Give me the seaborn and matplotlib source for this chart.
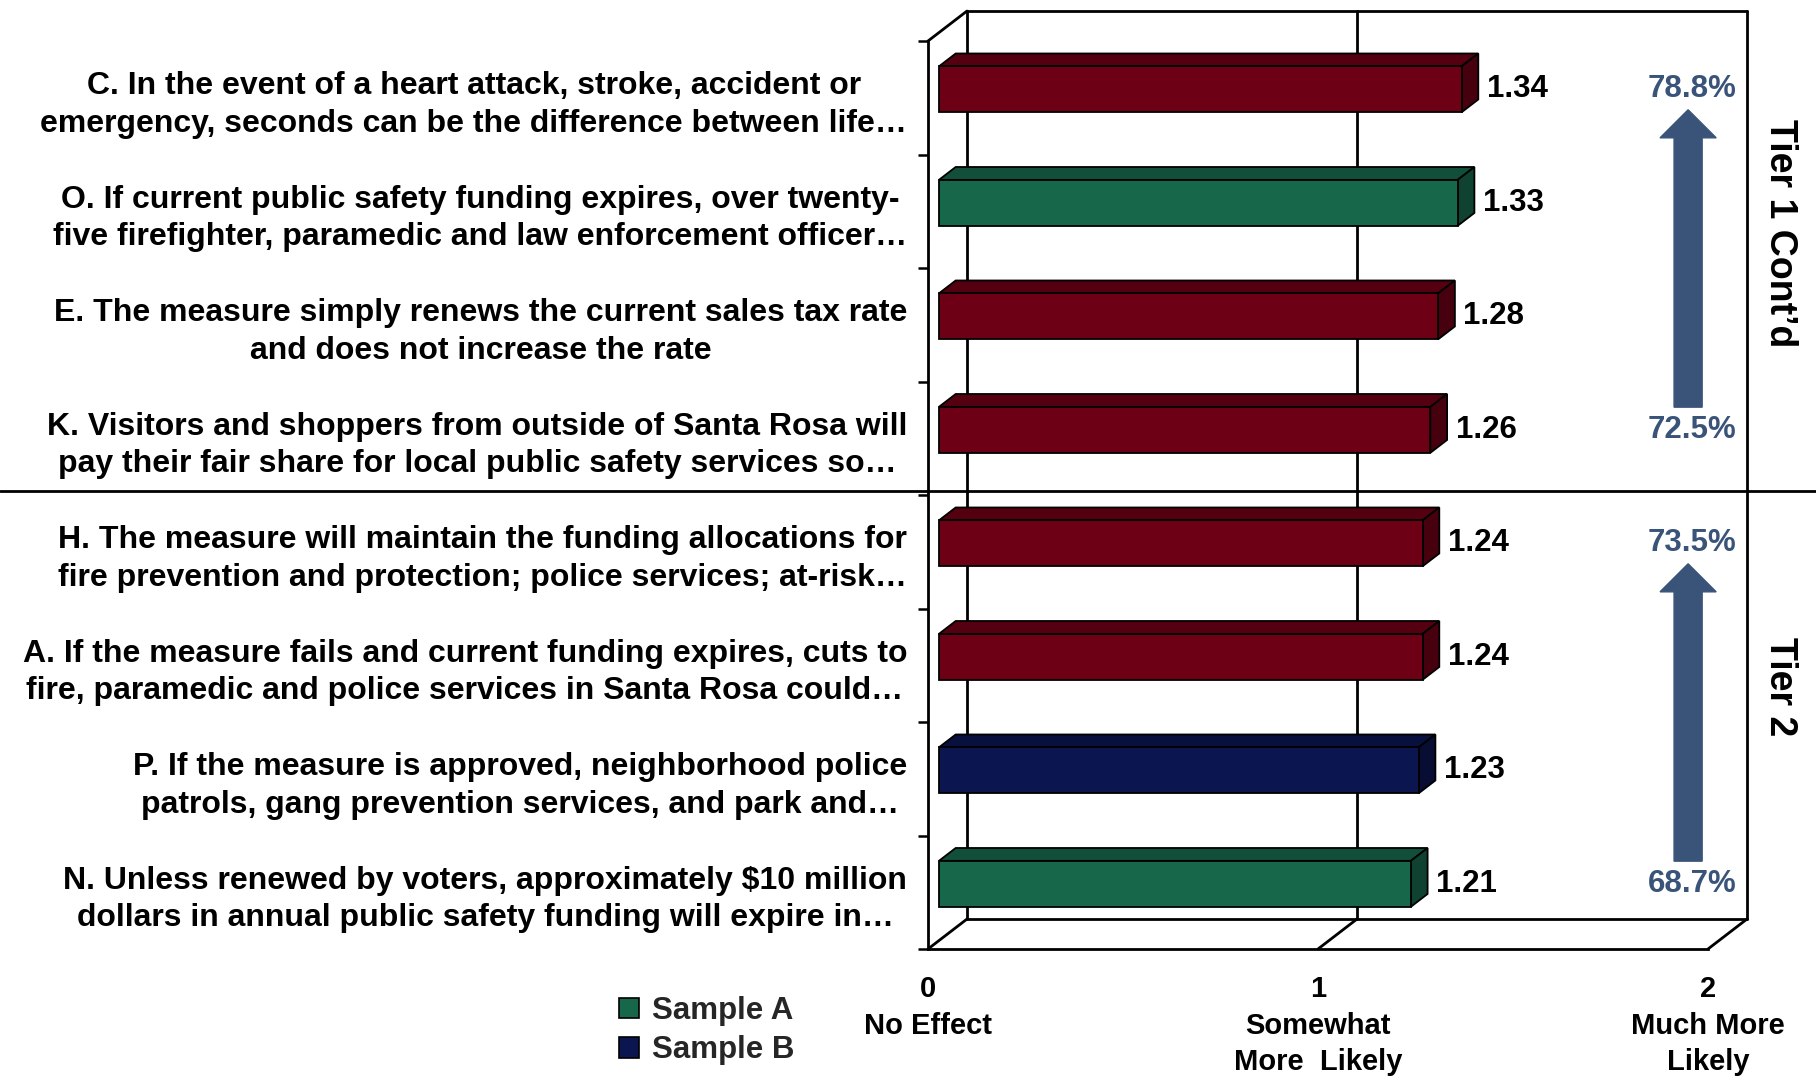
import numpy as np
import pandas as pd
import matplotlib
matplotlib.use("Agg")
import matplotlib.pyplot as plt
import seaborn as sns
from matplotlib.patches import Polygon, Patch, FancyArrow
from matplotlib.lines import Line2D
from matplotlib.colors import to_rgb

# ---------------- data ----------------
labels = [
    "C. In the event of a heart attack, stroke, accident or\nemergency, seconds can be the difference between life…",
    "O. If current public safety funding expires, over twenty-\nfive firefighter, paramedic and law enforcement officer…",
    "E. The measure simply renews the current sales tax rate\nand does not increase the rate",
    "K. Visitors and shoppers from outside of Santa Rosa will\npay their fair share for local public safety services so…",
    "H. The measure will maintain the funding allocations for\nfire prevention and protection; police services; at-risk…",
    "A. If the measure fails and current funding expires, cuts to\nfire, paramedic and police services in Santa Rosa could…",
    "P. If the measure is approved, neighborhood police\npatrols, gang prevention services, and park and…",
    "N. Unless renewed by voters, approximately $10 million\ndollars in annual public safety funding will expire in…",
]
values = [1.34, 1.33, 1.28, 1.26, 1.24, 1.24, 1.23, 1.21]
samples = ["Both", "Sample A", "Both", "Both", "Both", "Both", "Sample B", "Sample A"]

tier_names = ["Tier 1 Cont\u2019d", "Tier 2"]
tier_top_pct = ["78.8%", "73.5%"]
tier_bottom_pct = ["72.5%", "68.7%"]
tier_rows = [(0, 3), (4, 7)]

xtick_vals = [0, 1, 2]
xtick_labels = ["0\nNo Effect", "1\nSomewhat\nMore  Likely", "2\nMuch More\nLikely"]
legend_labels = ["Sample A", "Sample B"]

palette = {"Both": "#6E0016", "Sample A": "#17674B", "Sample B": "#0B1550"}
pct_color = "#3A5479"

# ---------------- style ----------------
sns.set_theme(style="white")
plt.rcParams["font.family"] = ["Liberation Sans", "DejaVu Sans"]
plt.rcParams["font.weight"] = "bold"

W, H = 1816, 1081
fig = plt.figure(figsize=(W / 100, H / 100), dpi=100)
# front plane of the 3-D box
ax_l, ax_r, ax_t, ax_b = 928, 1708, 41, 949
ax = fig.add_axes([ax_l / W, 1 - ax_b / H, (ax_r - ax_l) / W, (ax_b - ax_t) / H])

df = pd.DataFrame({"label": labels, "value": values, "sample": samples})
sns.barplot(data=df, x="value", y="label", hue="sample", palette=palette,
            dodge=False, width=0.405, orient="h", ax=ax, legend=False,
            saturation=1, edgecolor="black", linewidth=1.3, zorder=5)

ax.set_xlim(0, 2)
ax.set_ylim(len(labels) - 0.5, -0.5)

# depth offsets (data units) of the back wall
DX, DY = 0.10, 0.264
d0, d1 = 0.28, 0.71  # bar front / back depth fraction

for p in list(ax.patches):
    x0, y0, w, h = p.get_x(), p.get_y(), p.get_width(), p.get_height()
    if w <= 0 or h <= 0:
        continue
    fc = np.array(to_rgb(p.get_facecolor()))
    fdx, fdy = d0 * DX, d0 * DY
    bdx, bdy = d1 * DX, d1 * DY
    p.set_x(x0 + fdx)
    p.set_y(y0 - fdy)
    top = Polygon([(x0 + fdx, y0 - fdy), (x0 + w + fdx, y0 - fdy),
                   (x0 + w + bdx, y0 - bdy), (x0 + bdx, y0 - bdy)],
                  closed=True, facecolor=fc * 0.77, edgecolor="black",
                  linewidth=1.3, zorder=4)
    side = Polygon([(x0 + w + fdx, y0 - fdy), (x0 + w + bdx, y0 - bdy),
                    (x0 + w + bdx, y0 + h - bdy), (x0 + w + fdx, y0 + h - fdy)],
                   closed=True, facecolor=fc * 0.64, edgecolor="black",
                   linewidth=1.3, zorder=4)
    ax.add_patch(top)
    ax.add_patch(side)

# value labels
for i, v in enumerate(values):
    ax.text(v + d1 * DX + 0.022, i - d0 * DY, f"{v:.2f}", ha="left", va="center",
            fontsize=22.5, fontweight="bold", color="black", zorder=6)

# ---------------- 3-D box lines ----------------
y_top, y_bot = -0.5, len(labels) - 0.5
lw = 2.0
box_lines = [
    [(0, y_top), (DX, y_top - DY)],
    [(DX, y_top - DY), (2 + DX, y_top - DY)],
    [(DX, y_top - DY), (DX, y_bot - DY)],
    [(2 + DX, y_top - DY), (2 + DX, y_bot - DY)],
    [(DX, y_bot - DY), (2 + DX, y_bot - DY)],
    [(1 + DX, y_top - DY), (1 + DX, y_bot - DY)],
    [(0, y_bot), (DX, y_bot - DY)],
    [(1, y_bot), (1 + DX, y_bot - DY)],
    [(2, y_bot), (2 + DX, y_bot - DY)],
]
for seg in box_lines:
    (xa, ya), (xb, yb) = seg
    ax.add_line(Line2D([xa, xb], [ya, yb], color="black", lw=lw, clip_on=False, zorder=1))

for s in ["top", "right"]:
    ax.spines[s].set_visible(False)
for s in ["left", "bottom"]:
    ax.spines[s].set_color("black")
    ax.spines[s].set_linewidth(lw)
    ax.spines[s].set_zorder(3)

# ticks
ax.set_yticks(np.arange(-0.5, len(labels), 1.0), minor=True)
ax.tick_params(axis="y", which="minor", length=7, width=1.8, color="black", left=True)
ax.tick_params(axis="y", which="major", length=0, pad=15)
for t in ax.get_yticklabels():
    t.set_fontsize(23)
    t.set_fontweight("bold")
    t.set_multialignment("center")
    t.set_linespacing(1.32)
    t.set_color("black")

ax.set_xticks(xtick_vals)
ax.set_xticklabels(xtick_labels, fontsize=21, fontweight="bold", color="black",
                   linespacing=1.38)
ax.tick_params(axis="x", which="major", length=0, pad=19)
ax.set_xlabel("")
ax.set_ylabel("")

# ---------------- tier annotations ----------------
arrow_x = 1.949
for k, (r_top, r_bot) in enumerate(tier_rows):
    ax.text(1.959, r_top - d0 * DY, tier_top_pct[k], ha="center", va="center",
            fontsize=22.5, fontweight="bold", color=pct_color, clip_on=False)
    ax.text(1.959, r_bot - d0 * DY, tier_bottom_pct[k], ha="center", va="center",
            fontsize=22.5, fontweight="bold", color=pct_color, clip_on=False)
    y_start = r_bot - d0 * DY - 0.2
    y_end = r_top - d0 * DY + 0.18
    arr = FancyArrow(arrow_x, y_start, 0, y_end - y_start, width=0.072,
                     head_width=0.144, head_length=0.247, length_includes_head=True,
                     color=pct_color, clip_on=False, zorder=2)
    ax.add_patch(arr)
    ax.text(2.185, (r_top + r_bot) / 2 - 0.31, tier_names[k], rotation=-90,
            ha="center", va="center", fontsize=27, fontweight="bold",
            color="black", clip_on=False)

# separator line between tiers
fig.add_artist(Line2D([0, 1], [1 - 491 / H, 1 - 491 / H], color="black", lw=2.0,
                      transform=fig.transFigure))

# legend
handles = [Patch(facecolor=palette["Sample A"], edgecolor="black", linewidth=1.2),
           Patch(facecolor=palette["Sample B"], edgecolor="black", linewidth=1.2)]
fig.legend(handles, legend_labels, loc="upper left", bbox_to_anchor=(619 / W, 1 - 996 / H),
           frameon=False, prop={"size": 22.5, "weight": "bold"}, handlelength=0.65,
           handleheight=0.65, handletextpad=0.4, labelspacing=0.3, borderpad=0,
           borderaxespad=0)

fig.savefig("out.png", dpi=100, facecolor="white")
